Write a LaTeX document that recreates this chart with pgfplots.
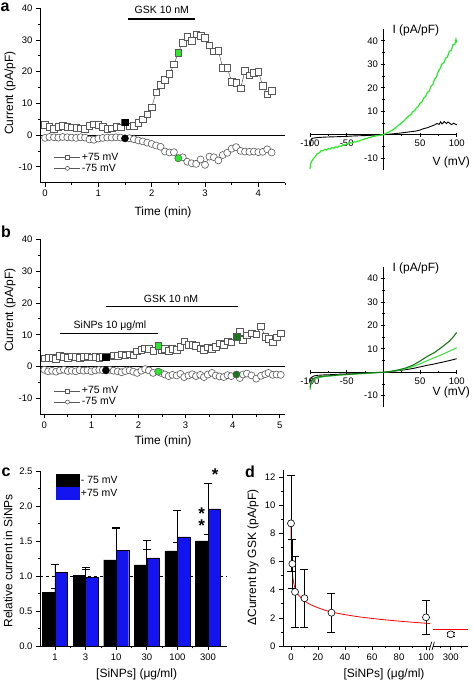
\documentclass[border=0pt]{standalone}
\usepackage{fontspec}
\setmainfont{Liberation Sans}
\usepackage{pgfplots}
\pgfplotsset{compat=1.18}
\definecolor{bgreen}{RGB}{40,235,40}
\definecolor{lgreen}{RGB}{70,225,70}
\definecolor{dgreen}{RGB}{25,120,25}
\definecolor{bblue}{RGB}{20,20,240}
\definecolor{mgray}{gray}{0.35}
\newcommand{\tl}{\fontsize{9.5}{11}\selectfont}
\newcommand{\lab}{\fontsize{12}{14}\selectfont}
\newcommand{\lgf}{\fontsize{10.5}{12}\selectfont}
\newcommand{\pl}{\fontsize{16}{18}\selectfont\bfseries}
\pgfplotsset{
  base/.style={scale only axis, anchor=south west, clip=false,
    /pgf/number format/assume math mode=true,
    tick label style={font=\tl},
    axis line style={line width=0.8pt, black},
    every tick/.style={line width=0.8pt, black},
    major tick length=4pt, minor tick length=2.3pt},
  tc/.style={base, axis x line*=bottom, axis y line*=left, tick pos=left, tick align=outside,
    width=245pt, ymin=-15, ymax=40, ytick={-10,0,...,40}, minor y tick num=1,
    xtick={0,...,5}, minor x tick num=1,
    legend style={draw=none, fill=none, font=\lgf, anchor=north west, row sep=0pt,
      nodes={inner sep=1.2pt}},
    legend cell align=left,
    legend image code/.code={\draw[##1, mark size=2pt, mark repeat=2, mark phase=2] plot coordinates {(0pt,0pt) (13pt,0pt) (26pt,0pt)};}},
  sq/.style={color=mgray, line width=0.5pt, mark=square*, mark size=3.3pt, mark options={fill=white, draw=mgray, line width=0.6pt}},
  ci/.style={color=mgray, line width=0.5pt, mark=*, mark size=3.5pt, mark options={fill=white, draw=mgray, line width=0.6pt}},
  iv/.style={base, axis lines=middle, axis line style={-}, width=146.7pt,
    xmin=-100, xmax=100, ymin=-15, ymax=45, tick align=center,
    xtick={-100,-50,50,100}, minor xtick={-75,-25,25,75},
    ytick={-10,10,20,30,40}, minor ytick={-5,5,15,25,35}},
}
\begin{document}
\begin{tikzpicture}[x=1pt,y=1pt]
\useasboundingbox (0,0) rectangle (472,683);

% ---------------- panel a: time course
\begin{axis}[tc, at={(40pt,500.4pt)}, height=174.3pt, xmin=-0.094, xmax=4.5,
  legend style={at={(0.045,0.19)}}]
\addplot[black, line width=0.8pt, forget plot] coordinates {(-0.094,0) (4.5,0)};
\addplot[sq] coordinates {(0,3.2)(0.083,2.6)(0.167,2.0)(0.25,2.6)(0.333,3.0)(0.417,2.7)(0.5,2.4)(0.583,2.2)(0.667,2.1)(0.75,2.0)(0.833,2.9)(0.917,3.4)(1.0,3.3)(1.083,2.7)(1.167,2.0)(1.25,2.1)(1.333,2.6)(1.417,2.4)(1.5,4.0)(1.583,2.8)(1.667,3.0)(1.75,3.8)(1.833,5.0)(1.917,6.6)(2.0,8.8)(2.083,13.5)(2.167,15.9)(2.25,17.4)(2.333,19.3)(2.417,22.3)(2.5,26.0)(2.583,29.1)(2.667,31.0)(2.75,29.7)(2.833,31.8)(2.917,31.3)(3.0,30.6)(3.083,28.3)(3.167,26.4)(3.25,26.6)(3.333,21.2)(3.417,21.2)(3.5,16.9)(3.583,16.5)(3.667,14.7)(3.75,20.3)(3.833,18.9)(3.917,19.7)(4.0,20.0)(4.083,15.5)(4.167,12.8)(4.25,14.0)};
\addplot[ci] coordinates {(0,-0.9)(0.083,-0.6)(0.167,-0.7)(0.25,-0.8)(0.333,-0.6)(0.417,-0.7)(0.5,-0.8)(0.583,-0.9)(0.667,-0.7)(0.75,-0.8)(0.833,-1.4)(0.917,-1.5)(1.0,-1.1)(1.083,-0.9)(1.167,-0.8)(1.25,-0.8)(1.333,-0.7)(1.417,-0.8)(1.5,-1.05)(1.583,-1.0)(1.667,-1.3)(1.75,-1.7)(1.833,-2.0)(1.917,-2.4)(2.0,-2.8)(2.083,-3.3)(2.167,-3.7)(2.25,-5.2)(2.333,-5.5)(2.417,-5.4)(2.5,-7.3)(2.583,-7.0)(2.667,-8.4)(2.75,-8.9)(2.833,-9.1)(2.917,-7.7)(3.0,-9.4)(3.083,-6.8)(3.167,-7.0)(3.25,-8.0)(3.333,-6.3)(3.417,-5.6)(3.5,-4.3)(3.583,-3.8)(3.667,-5.0)(3.75,-5.2)(3.833,-5.3)(3.917,-5.2)(4.0,-5.4)(4.083,-5.3)(4.167,-4.5)(4.25,-5.5)};
\addplot[only marks, mark=square*, mark size=3.3pt, mark options={fill=black, draw=black}, forget plot] coordinates {(1.5,4.0)};
\addplot[only marks, mark=*, mark size=3.5pt, mark options={fill=black, draw=black}, forget plot] coordinates {(1.5,-1.05)};
\addplot[only marks, mark=square*, mark size=3.3pt, mark options={fill=bgreen, draw=mgray}, forget plot] coordinates {(2.5,26.0)};
\addplot[only marks, mark=*, mark size=3.5pt, mark options={fill=bgreen, draw=mgray}, forget plot] coordinates {(2.5,-7.3)};
\addplot[black, line width=1.3pt, forget plot] coordinates {(1.56,36.6) (2.81,36.6)};
\node[font=\lgf] at (axis cs:2.19,39.4) {GSK 10 nM};
\legend{+75 mV, -75 mV}
\end{axis}

% ---------------- panel a: IV
\begin{axis}[iv, at={(310pt,513pt)}, height=141pt]
\addplot[black, line width=0.9pt] coordinates {(-100,-5)(-99,-3)(-97.5,-1.6)(-95,-1.4)(-90,-1.2)(-85,-1.1)(-80,-1.0)(-70,-0.9)(-60,-0.8)(-50,-0.7)(-40,-0.5)(-30,-0.4)(-20,-0.3)(-10,-0.1)(0,0)(10,0.3)(20,0.6)(30,1.0)(40,1.4)(45,1.6)(50,2.0)(55,2.6)(60,3.0)(65,3.6)(70,4.2)(73,4.8)(76,4.4)(78,5.5)(80,4.6)(83,5.6)(86,4.8)(88,5.4)(90,5.0)(93,4.3)(96,4.9)(100,4.2)};
\addplot[bgreen, line width=1.2pt] coordinates {(-100,-14.5)(-99,-12.4)(-97.5,-11.2)(-95,-10.0)(-92.5,-9.2)(-90,-8.0)(-87.5,-7.8)(-85,-6.8)(-82.5,-6.9)(-80,-6.2)(-77.5,-6.5)(-75,-5.8)(-72.5,-6.1)(-70,-5.4)(-67.5,-5.8)(-65,-5.1)(-62.5,-5.4)(-60,-4.8)(-57.5,-4.9)(-55,-4.3)(-52.5,-4.4)(-50,-3.8)(-47.5,-3.9)(-45,-3.4)(-42.5,-3.5)(-40,-3.0)(-37.5,-3.1)(-35,-2.7)(-32.5,-2.6)(-30,-2.2)(-27.5,-2.1)(-25,-1.7)(-22.5,-1.6)(-20,-1.2)(-17.5,-1.1)(-15,-0.8)(-12.5,-0.7)(-10,-0.5)(-7.5,-0.35)(-5,-0.2)(-2.5,-0.1)(0,0)(2.5,0.4)(5,0.8)(7.5,1.1)(10,1.6)(12.5,2.0)(15,2.6)(17.5,3.1)(20,3.9)(22.5,4.4)(25,5.2)(27.5,5.7)(30,6.6)(32.5,7.3)(35,8.1)(37.5,8.6)(40,9.8)(42.5,10.2)(45,11.4)(47.5,12.0)(50,13.4)(52.5,13.9)(55,15.6)(57.5,16.3)(60,18.0)(62.5,18.6)(65,20.6)(67.5,21.4)(70,23.7)(72.5,24.6)(75,27.1)(77.5,28.2)(80,30.1)(82.5,30.6)(85,32.6)(87.5,33.2)(90,35.5)(92.5,35.9)(95,38.3)(97.5,38.5)(99,40.6)(100,39.2)};
\end{axis}
\node[anchor=west, font=\lab] at (389,653) {I (pA/pF)};
\node[font=\lab] at (451.3,521) {V (mV)};

% ---------------- panel b: time course
\begin{axis}[tc, at={(40pt,268.7pt)}, height=175pt, xmin=-0.091, xmax=5.11,
  legend style={at={(0.045,0.178)}}]
\addplot[black, line width=0.8pt, forget plot] coordinates {(-0.091,0) (5.11,0)};
\addplot[sq] coordinates {(0,2.6)(0.083,2.8)(0.167,2.7)(0.25,2.5)(0.333,3.3)(0.417,3.0)(0.5,2.7)(0.583,3.2)(0.667,3.0)(0.75,2.8)(0.833,3.0)(0.917,3.2)(1.0,2.9)(1.083,3.1)(1.167,2.8)(1.24,3.0)(1.31,3.0)(1.39,3.2)(1.47,3.5)(1.56,3.3)(1.64,3.8)(1.72,3.5)(1.81,3.9)(1.89,3.6)(1.97,4.8)(2.06,5.3)(2.14,5.8)(2.22,5.5)(2.31,5.0)(2.42,6.5)(2.48,5.2)(2.56,5.6)(2.64,5.0)(2.72,5.5)(2.81,5.3)(2.89,6.3)(2.97,7.9)(3.06,6.8)(3.14,6.9)(3.22,6.6)(3.31,5.8)(3.39,5.3)(3.47,6.0)(3.56,5.6)(3.64,6.3)(3.72,7.3)(3.81,6.8)(3.89,7.9)(3.97,7.6)(4.08,9.4)(4.15,11.0)(4.22,8.4)(4.3,9.8)(4.4,10.5)(4.5,10.2)(4.6,12.6)(4.69,9.4)(4.76,8.8)(4.85,7.6)(4.93,9.2)(5.02,10.5)};
\addplot[ci] coordinates {(0,-1.0)(0.083,-1.5)(0.167,-1.3)(0.25,-1.6)(0.333,-1.2)(0.417,-1.0)(0.5,-1.4)(0.583,-1.3)(0.667,-1.5)(0.75,-1.1)(0.833,-1.3)(0.917,-1.2)(1.0,-1.5)(1.083,-1.2)(1.167,-1.0)(1.24,-1.1)(1.31,-1.2)(1.39,-1.0)(1.47,-1.3)(1.56,-1.5)(1.64,-1.8)(1.72,-1.4)(1.81,-1.2)(1.89,-1.6)(1.97,-2.0)(2.06,-1.3)(2.14,-0.8)(2.22,-1.2)(2.31,-2.0)(2.42,-1.6)(2.48,-2.0)(2.56,-2.5)(2.64,-3.0)(2.72,-2.6)(2.81,-2.8)(2.89,-2.3)(2.97,-3.3)(3.06,-2.8)(3.14,-2.4)(3.22,-3.0)(3.31,-2.6)(3.39,-3.3)(3.47,-2.5)(3.56,-2.0)(3.64,-2.8)(3.72,-3.1)(3.81,-3.3)(3.89,-2.7)(3.97,-3.0)(4.08,-2.5)(4.15,-3.6)(4.22,-2.5)(4.3,-2.2)(4.4,-2.8)(4.5,-3.8)(4.6,-2.9)(4.69,-2.4)(4.76,-2.0)(4.85,-2.6)(4.93,-2.5)(5.02,-2.6)};
\addplot[only marks, mark=square*, mark size=3.3pt, mark options={fill=black, draw=black}, forget plot] coordinates {(1.31,3.0)};
\addplot[only marks, mark=*, mark size=3.5pt, mark options={fill=black, draw=black}, forget plot] coordinates {(1.31,-1.2)};
\addplot[only marks, mark=square*, mark size=3.3pt, mark options={fill=bgreen, draw=mgray}, forget plot] coordinates {(2.42,6.5)};
\addplot[only marks, mark=*, mark size=3.5pt, mark options={fill=bgreen, draw=mgray}, forget plot] coordinates {(2.42,-1.6)};
\addplot[only marks, mark=square*, mark size=3.3pt, mark options={fill=dgreen, draw=mgray}, forget plot] coordinates {(4.08,9.4)};
\addplot[only marks, mark=*, mark size=3.5pt, mark options={fill=dgreen, draw=mgray}, forget plot] coordinates {(4.08,-2.5)};
\addplot[black, line width=1.3pt, forget plot] coordinates {(0.33,10.3) (2.42,10.3)};
\addplot[black, line width=1.3pt, forget plot] coordinates {(1.32,18.9) (4.12,18.9)};
\node[font=\lgf] at (axis cs:1.395,12.9) {SiNPs 10 μg/ml};
\node[font=\lgf] at (axis cs:2.69,21.4) {GSK 10 nM};
\legend{+75 mV, -75 mV}
\end{axis}

% ---------------- panel b: IV
\begin{axis}[iv, at={(310pt,275.6pt)}, height=140.4pt]
\addplot[black, line width=0.9pt] coordinates {(-100,-4)(-98,-2.2)(-95,-1.6)(-90,-1.3)(-80,-1.1)(-70,-1.0)(-60,-0.8)(-50,-0.7)(-40,-0.6)(-30,-0.4)(-20,-0.3)(-10,-0.1)(0,0)(10,0.3)(20,0.7)(30,1.1)(40,1.6)(50,2.3)(60,3.0)(70,3.6)(80,4.3)(90,5.0)(100,5.8)};
\addplot[lgreen, line width=1.1pt] coordinates {(-100,-7.5)(-98,-4.2)(-95,-2.9)(-90,-2.3)(-85,-2.1)(-80,-1.8)(-70,-1.5)(-60,-1.2)(-50,-1.0)(-40,-0.8)(-30,-0.6)(-20,-0.4)(-10,-0.2)(0,0)(10,0.3)(20,0.8)(30,1.5)(40,2.4)(50,3.6)(60,5.0)(70,6.3)(80,7.6)(90,9.0)(100,10.5)};
\addplot[dgreen, line width=1.1pt] coordinates {(-100,-6.5)(-98,-3.6)(-95,-2.6)(-90,-2.0)(-80,-1.6)(-70,-1.4)(-60,-1.1)(-50,-0.9)(-40,-0.7)(-30,-0.5)(-20,-0.3)(-10,-0.1)(0,0)(10,0.4)(20,1.0)(30,1.8)(40,3.0)(50,4.8)(60,6.8)(70,8.5)(80,10.8)(90,13.3)(95,15.0)(100,17.0)};
\end{axis}
\node[anchor=west, font=\lab] at (389,414.7) {I (pA/pF)};
\node[font=\lab] at (451.3,290.3) {V (mV)};

% ---------------- panel c: bars
\begin{axis}[base, at={(40pt,37pt)}, width=186.7pt, height=175pt,
  axis x line*=bottom, axis y line*=left, tick pos=left, tick align=outside,
  xmin=-0.49, xmax=5.61, ymin=0, ymax=2.5,
  xtick={0,...,5}, xticklabels={1,3,10,30,100,300}, minor xtick={0.5,1.5,2.5,3.5,4.5},
  ytick={0,0.5,...,2.5}, minor y tick num=1,
  yticklabel style={/pgf/number format/.cd, fixed, fixed zerofill, precision=1},
  legend style={draw=none, fill=none, font=\lgf, at={(0.066,0.993)}, anchor=north west,
    row sep=1pt, nodes={inner sep=1.5pt}},
  legend cell align=left]
\addplot[black, dashed, line width=0.6pt, forget plot] coordinates {(-0.49,1) (5.61,1)};
\addplot[ybar, bar width=12.5pt, bar shift=-6.25pt, fill=black, draw=black,
  legend image code/.code={\fill[black] (0pt,-5.8pt) rectangle (23.5pt,5.8pt);},
  error bars/.cd, y dir=plus, y explicit,
  error bar style={black, line width=0.8pt},
  error mark options={rotate=90, mark size=4pt, black, line width=0.8pt}]
  coordinates {(0,0.77)+-(0,0.05) (1,1.01)+-(0,0.11) (2,1.23)+-(0,0.46) (3,1.16)+-(0,0.22) (4,1.36)+-(0,0.12) (5,1.50)+-(0,0.10)};
\addplot[ybar, bar width=12.5pt, bar shift=6.25pt, fill=bblue, draw=black,
  legend image code/.code={\fill[bblue] (0pt,-5.8pt) rectangle (23.5pt,5.8pt);},
  error bars/.cd, y dir=plus, y explicit,
  error bar style={black, line width=0.8pt},
  error mark options={rotate=90, mark size=4pt, black, line width=0.8pt}]
  coordinates {(0,1.05)+-(0,0.12) (1,0.98)+-(0,0.11) (2,1.37)+-(0,0.31) (3,1.26)+-(0,0.25) (4,1.56)+-(0,0.37) (5,1.96)+-(0,0.36)};
\node[font=\fontsize{17}{17}\selectfont\bfseries, yshift=-3.5pt] at (axis cs:5.23,2.5) {*};
\node[font=\fontsize{17}{12}\selectfont\bfseries, align=center, inner sep=0pt, yshift=-3pt] at (axis cs:4.79,1.845) {*\\*};
\legend{- 75 mV, +75 mV}
\end{axis}

% ---------------- panel d
\begin{axis}[base, at={(283pt,37pt)}, width=185.3pt, height=175.6pt,
  axis x line*=bottom, axis y line*=left, tick pos=left, tick align=outside,
  xmin=-5.9, xmax=131.3, ymin=0, ymax=12.5,
  xtick={0,20,40,60,80,100,118.3}, xticklabels={0,20,40,60,80,100,300},
  minor xtick={10,30,50,70,90,110.5,126},
  ytick={0,2,...,12}, minor y tick num=1]
\addplot[red, line width=0.8pt] coordinates {(0,8.6)(0.1,7.8)(0.3,6.9)(0.6,6.0)(1,5.3)(1.5,4.8)(2,4.5)(3,4.1)(4,3.85)(5,3.7)(6,3.58)(8,3.38)(10,3.22)(12,3.08)(15,2.92)(20,2.72)(25,2.55)(30,2.42)(35,2.32)(40,2.23)(50,2.08)(60,1.96)(70,1.86)(80,1.77)(90,1.69)(103,1.6)};
\addplot[red, line width=0.8pt] coordinates {(105.4,1.2)(131.3,1.2)};
\addplot[only marks, mark=*, mark size=3.5pt, mark options={fill=white, draw=black, line width=0.6pt},
  error bars/.cd, y dir=both, y explicit,
  error bar style={black, line width=0.8pt},
  error mark options={rotate=90, mark size=4pt, black, line width=0.8pt}]
  coordinates {(0,8.73)+-(0,3.4) (1,5.85)+-(0,1.75) (3,3.85)+-(0,2.5) (10,3.4)+-(0,2.05) (30,2.37)+-(0,1.37) (100,2.04)+-(0,1.2) (118.3,0.83)+-(0,0.15)};
\fill[white] (axis cs:103.2,-0.2) rectangle (axis cs:105.4,0.2);
\draw[black, line width=0.7pt] (axis cs:102.4,-0.3) -- (axis cs:104.2,0.3);
\draw[black, line width=0.7pt] (axis cs:104.4,-0.3) -- (axis cs:106.2,0.3);
\end{axis}

% ---------------- labels
\node[font=\pl] at (5,676) {a};
\node[font=\pl] at (6,451) {b};
\node[font=\pl] at (6,211) {c};
\node[font=\pl] at (250,211) {d};
\node[font=\lab] at (163,471) {Time (min)};
\node[font=\lab] at (163,241.3) {Time (min)};
\node[font=\lab, rotate=90] at (10,590) {Current (pA/pF)};
\node[font=\lab, rotate=90] at (10,373) {Current (pA/pF)};
\node[font=\lab, rotate=90] at (8,122.2) {Relative current in SiNPs};
\node[font=\lab] at (136.7,9) {[SiNPs] (μg/ml)};
\node[font=\lab, rotate=90] at (253,125.5) {ΔCurrent by GSK (pA/pF)};
\node[font=\lab] at (384,9) {[SiNPs] (μg/ml)};
\end{tikzpicture}
\end{document}
